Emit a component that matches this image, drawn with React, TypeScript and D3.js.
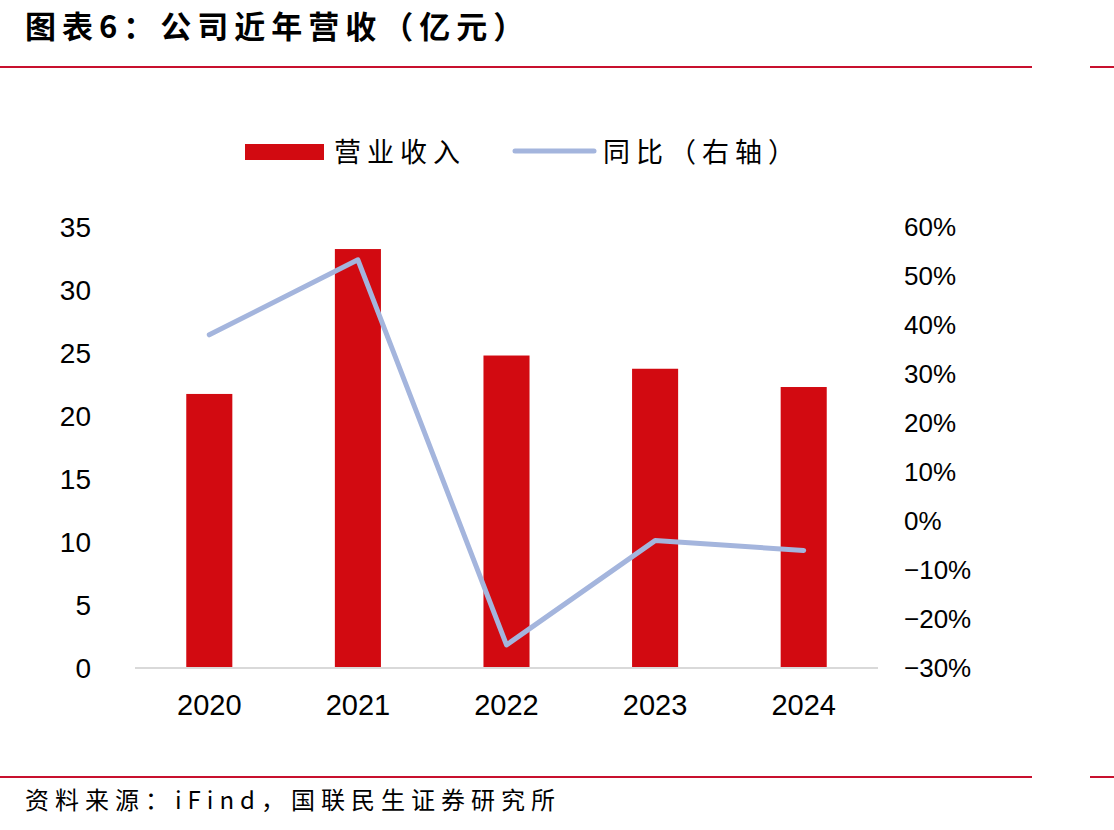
import React from "react";
import * as d3 from "d3";

const years = ["2020", "2021", "2022", "2023", "2024"];
const revenue = [21.75, 33.25, 24.8, 23.75, 22.3];
const yoy = [38.0, 53.3, -25.3, -4.0, -6.0];
const leftTicks = [0, 5, 10, 15, 20, 25, 30, 35];
const rightTicks = [-30, -20, -10, 0, 10, 20, 30, 40, 50, 60];

const title = "图表6：公司近年营收（亿元）";
const source = "资料来源：iFind，国联民生证券研究所";
const legendBar = "营业收入";
const legendLine = "同比（右轴）";

const RED = "#D20A11";
const LINE = "#A4B5DD";
const RULE = "#C8102E";
const CJK = "'Noto Sans CJK SC', sans-serif";
const NUM = "'Liberation Sans', Arial, sans-serif";

export default function App() {
  const W = 1114;
  const H = 830;
  const x = d3.scaleBand<string>().domain(years).range([135, 878]).paddingInner(0.69).paddingOuter(0.345);
  const yL = d3.scaleLinear().domain([0, 35]).range([668, 227]);
  const yR = d3.scaleLinear().domain([-30, 60]).range([668, 227]);
  const line = d3
    .line<number>()
    .x((_, i) => (x(years[i]) as number) + x.bandwidth() / 2)
    .y((d) => yR(d));

  return (
    <svg width={W} height={H} style={{ position: "absolute", left: 0, top: 0, background: "#fff" }}>
      <rect x={0} y={0} width={W} height={H} fill="#fff" />
      <text x={25} y={38} fontFamily={CJK} fontWeight={700} fontSize={31} letterSpacing={6} fill="#000">
        {title}
      </text>
      <rect x={0} y={66} width={1032} height={2} fill={RULE} />
      <rect x={1090} y={66} width={24} height={2} fill={RULE} />

      {/* legend */}
      <rect x={245} y={144} width={79} height={16} fill={RED} />
      <text x={334} y={162} fontFamily={CJK} fontSize={27} letterSpacing={6} fill="#000">
        {legendBar}
      </text>
      <line x1={515} x2={594} y1={151} y2={151} stroke={LINE} strokeWidth={5} strokeLinecap="round" />
      <text x={603} y={162} fontFamily={CJK} fontSize={27} letterSpacing={6} fill="#000">
        {legendLine}
      </text>

      {/* bars */}
      {revenue.map((v, i) => (
        <rect
          key={years[i]}
          x={x(years[i])}
          y={yL(v)}
          width={x.bandwidth()}
          height={yL(0) - yL(v)}
          fill={RED}
        />
      ))}

      {/* x axis line */}
      <line x1={135} x2={878} y1={668} y2={668} stroke="#D9D9D9" strokeWidth={2} />

      {/* line series */}
      <path d={line(yoy) || ""} fill="none" stroke={LINE} strokeWidth={5} strokeLinecap="round" strokeLinejoin="round" />

      {/* left axis */}
      {leftTicks.map((t) => (
        <text key={t} x={91} y={yL(t) + 10} textAnchor="end" fontFamily={NUM} fontSize={28} fill="#000">
          {t}
        </text>
      ))}
      {/* right axis */}
      {rightTicks.map((t) => (
        <text key={t} x={904} y={yR(t) + 9} textAnchor="start" fontFamily={NUM} fontSize={26} fill="#000">
          {t < 0 ? "\u2212" + Math.abs(t) + "%" : t + "%"}
        </text>
      ))}
      {/* x labels */}
      {years.map((yr) => (
        <text
          key={yr}
          x={(x(yr) as number) + x.bandwidth() / 2}
          y={715}
          textAnchor="middle"
          fontFamily={NUM}
          fontSize={29}
          fill="#000"
        >
          {yr}
        </text>
      ))}

      <rect x={0} y={776} width={1032} height={2} fill={RULE} />
      <rect x={1090} y={776} width={24} height={2} fill={RULE} />
      <text x={25} y={809} fontFamily={CJK} fontSize={24} letterSpacing={6} fill="#000">
        {source}
      </text>
    </svg>
  );
}
